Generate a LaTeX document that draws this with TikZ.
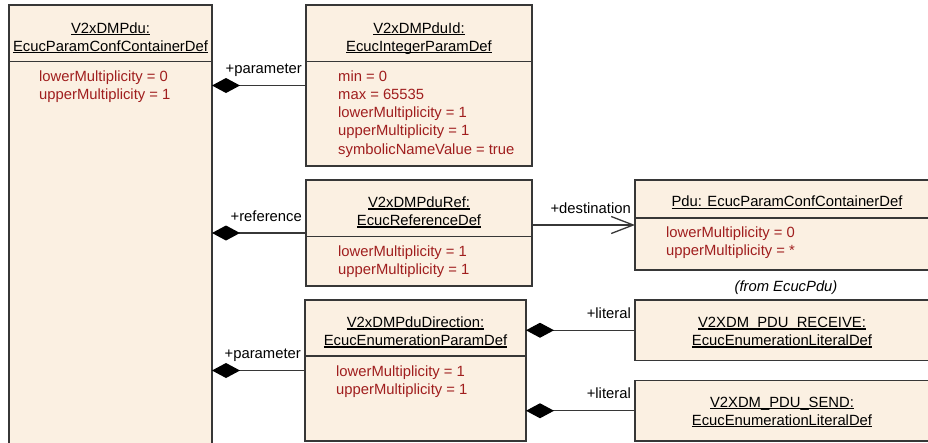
\documentclass[tikz,border=0pt]{standalone}
\usepackage{fontspec}
\setmainfont{Liberation Sans}
\usetikzlibrary{arrows.meta}
\definecolor{boxfill}{RGB}{251,240,226}
\definecolor{attr}{RGB}{160,30,30}
\definecolor{edge}{RGB}{55,55,55}
\newsavebox\ulbox
\newcommand\ult[1]{\sbox\ulbox{#1}\rlap{\rule[-2.2pt]{\wd\ulbox}{1.1pt}}\usebox\ulbox}
\begin{document}
\begin{tikzpicture}[x=1pt,y=-1pt,
 umlbox/.style={draw=edge, line width=1.4pt, fill=boxfill, inner sep=0pt, outer sep=0pt, anchor=north west},
 txt/.style={font=\fontsize{14.8}{18}\selectfont, inner sep=0pt},
 title/.style={txt, anchor=base, align=center},
 attrtxt/.style={font=\fontsize{14.8}{18.3}\selectfont, inner sep=0pt, text=attr, anchor=base west, align=left},
 lbl/.style={txt, anchor=base east, xshift=-4pt, yshift=12pt},
 sepline/.style={draw=edge, line width=1.4pt},
 comp/.style={draw=edge, line width=1.3pt, {Diamond[length=28pt,width=15pt,fill=black,color=black]}-},
 nav/.style={draw=edge, line width=1.3pt, -{Straight Barb[length=22pt,width=17pt]}}
]
\useasboundingbox (0,0) rectangle (928,442);
\clip (0,0) rectangle (928,442);
\fill[white] (0,0) rectangle (928,442);

% boxes
\node[umlbox, minimum width=203pt, minimum height=460pt] (pdu) at (9,5) {};
\node[umlbox, minimum width=226pt, minimum height=161pt] (id) at (306,5) {};
\node[umlbox, minimum width=226pt, minimum height=106pt] (ref) at (306,180) {};
\node[umlbox, minimum width=310pt, minimum height=90pt] (dest) at (635,180) {};
\node[umlbox, minimum width=221pt, minimum height=141pt] (dir) at (305,300) {};
\node[umlbox, minimum width=310pt, minimum height=60.5pt] (rec) at (635,300) {};
\node[umlbox, minimum width=310pt, minimum height=60.5pt] (send) at (635,380.5) {};

% separators
\draw[sepline] (pdu.west |- 0,61.7) -- (pdu.east |- 0,61.7);
\draw[sepline] (id.west |- 0,61.7) -- (id.east |- 0,61.7);
\draw[sepline] (ref.west |- 0,236.7) -- (ref.east |- 0,236.7);
\draw[sepline] (dest.west |- 0,218) -- (dest.east |- 0,218);
\draw[sepline] (dir.west |- 0,356) -- (dir.east |- 0,356);

% texts (base anchor = baseline of the last line)
\node[title] (pdut) at (110.5,51) {\ult{V2xDMPdu:}\\\ult{EcucParamConfContainerDef}};
\node[attrtxt] (pdua) at (39,99.3) {lowerMultiplicity = 0\\upperMultiplicity = 1};

\node[title] (idt) at (419,51) {\ult{V2xDMPduId:}\\\ult{EcucIntegerParamDef}};
\node[attrtxt] (ida) at (338,154.2) {min = 0\\max = 65535\\lowerMultiplicity = 1\\upperMultiplicity = 1\\symbolicNameValue = true};

\node[title] (reft) at (419,225.3) {\ult{V2xDMPduRef:}\\\ult{EcucReferenceDef}};
\node[attrtxt] (refa) at (338,274.3) {lowerMultiplicity = 1\\upperMultiplicity = 1};

\node[title] (destt) at (787,206.7) {\ult{Pdu: EcucParamConfContainerDef}};
\node[attrtxt] (desta) at (666,255.6) {lowerMultiplicity = 0\\upperMultiplicity = *};
\node[txt, anchor=base] (from) at (786,291) {\itshape (from EcucPdu)};

\node[title] (dirt) at (415.5,345.3) {\ult{V2xDMPduDirection:}\\\ult{EcucEnumerationParamDef}};
\node[attrtxt] (dira) at (336,394.3) {lowerMultiplicity = 1\\upperMultiplicity = 1};

\node[title] (rect) at (782,345.3) {\ult{V2XDM\_PDU\_RECEIVE:}\\\ult{EcucEnumerationLiteralDef}};
\node[title] (sendt) at (782,425) {\ult{V2XDM\_PDU\_SEND:}\\\ult{EcucEnumerationLiteralDef}};

% connectors
\draw[comp] (pdu.east |- id.west) -- (id.west);
\draw[comp] (pdu.east |- ref.west) -- (ref.west);
\draw[comp] (pdu.east |- dir.west) -- (dir.west);
\draw[nav] (ref.east |- dest.west) -- (dest.west);
\draw[comp] (dir.east |- rec.west) -- (rec.west);
\draw[comp] (dir.east |- send.west) -- (send.west);

% labels
\node[lbl] at (id.west) {+parameter};
\node[lbl] at (ref.west) {+reference};
\node[lbl] at (dir.west) {+parameter};
\node[lbl] at (dest.west) {+destination};
\node[lbl] at (rec.west) {+literal};
\node[lbl] at (send.west) {+literal};
\end{tikzpicture}
\end{document}
